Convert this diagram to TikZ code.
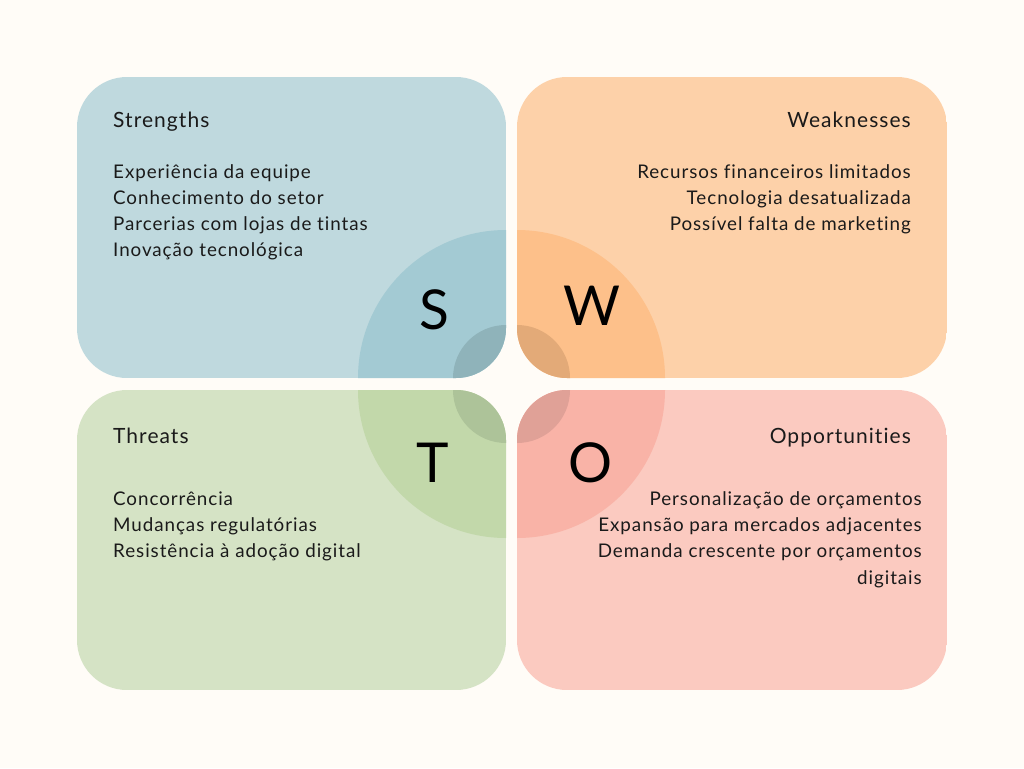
\documentclass[tikz,border=0pt]{standalone}
\usepackage{fontspec}
\setmainfont{Lato}[LetterSpace=5, Ligatures=CommonOff]
\newfontfamily\letterfont{Lato}
\definecolor{bg}{HTML}{FFFCF7}
\definecolor{ink}{HTML}{1A1A1A}
\definecolor{sbox}{HTML}{BFD9DE}
\definecolor{sbig}{HTML}{A3CAD3}
\definecolor{ssmall}{HTML}{8FB3BA}
\definecolor{wbox}{HTML}{FDD1A9}
\definecolor{wbig}{HTML}{FDC08A}
\definecolor{wsmall}{HTML}{E3AA78}
\definecolor{tbox}{HTML}{D5E3C5}
\definecolor{tbig}{HTML}{C2D8AA}
\definecolor{tsmall}{HTML}{ADC399}
\definecolor{obox}{HTML}{FBCAC0}
\definecolor{obig}{HTML}{F9B3A7}
\definecolor{osmall}{HTML}{E0A197}
\tikzset{
  head/.style={inner sep=0pt, text=ink, font=\fontsize{21}{26}\selectfont},
  item/.style={inner sep=0pt, text=ink, font=\fontsize{18.8}{26}\selectfont},
  letter/.style={inner sep=0pt, text=black, font=\letterfont\fontsize{55}{60}\selectfont},
  panel/.style={rounded corners=50pt}
}
\begin{document}
\begin{tikzpicture}[x=1pt,y=-1pt]
\fill[bg] (0,0) rectangle (1024,768);
\useasboundingbox (0,0) rectangle (1024,768);

% Strengths quadrant
\begin{scope}
  \path[clip, panel] (77,77) rectangle (506,378);
  \fill[sbox] (77,77) rectangle (506,378);
  \fill[sbig] (506,378) circle (148);
  \fill[ssmall] (506,378) circle (53);
\end{scope}
% Weaknesses quadrant
\begin{scope}
  \path[clip, panel] (517,77) rectangle (947,378);
  \fill[wbox] (517,77) rectangle (947,378);
  \fill[wbig] (517,378) circle (148);
  \fill[wsmall] (517,378) circle (53);
\end{scope}
% Threats quadrant
\begin{scope}
  \path[clip, panel] (77,390) rectangle (506,690);
  \fill[tbox] (77,390) rectangle (506,690);
  \fill[tbig] (506,390) circle (148);
  \fill[tsmall] (506,390) circle (53);
\end{scope}
% Opportunities quadrant
\begin{scope}
  \path[clip, panel] (517,390) rectangle (947,690);
  \fill[obox] (517,390) rectangle (947,690);
  \fill[obig] (517,390) circle (148);
  \fill[osmall] (517,390) circle (53);
\end{scope}

% Big initials
\node[letter] (ls) at (434,310) {S};
\node[letter] (lw) at (592,306) {W};
\node[letter] (lt) at (433,463) {T};
\node[letter] (lo) at (591,463) {O};

% Strengths text
\node[head, anchor=base west] (sh) at (113,127) {Strengths};
\node[item, anchor=base west] (s1) at (113,178) {Experiência da equipe};
\node[item, anchor=base west] (s2) at (113,204) {Conhecimento do setor};
\node[item, anchor=base west] (s3) at (113,230) {Parcerias com lojas de tintas};
\node[item, anchor=base west] (s4) at (113,256) {Inovação tecnológica};

% Weaknesses text
\node[head, anchor=base east] (wh) at (911,127) {Weaknesses};
\node[item, anchor=base east] (w1) at (911,178) {Recursos financeiros limitados};
\node[item, anchor=base east] (w2) at (911,204) {Tecnologia desatualizada};
\node[item, anchor=base east] (w3) at (911,230) {Possível falta de marketing};

% Threats text
\node[head, anchor=base west] (th) at (113,443) {Threats};
\node[item, anchor=base west] (t1) at (113,505) {Concorrência};
\node[item, anchor=base west] (t2) at (113,531) {Mudanças regulatórias};
\node[item, anchor=base west] (t3) at (113,557) {Resistência à adoção digital};

% Opportunities text
\node[head, anchor=base east] (oh) at (911,443) {Opportunities};
\node[item, anchor=base east] (o1) at (922,505) {Personalização de orçamentos};
\node[item, anchor=base east] (o2) at (922,531) {Expansão para mercados adjacentes};
\node[item, anchor=base east] (o3) at (922,557) {Demanda crescente por orçamentos};
\node[item, anchor=base east] (o4) at (922,584) {digitais};
\end{tikzpicture}
\end{document}
